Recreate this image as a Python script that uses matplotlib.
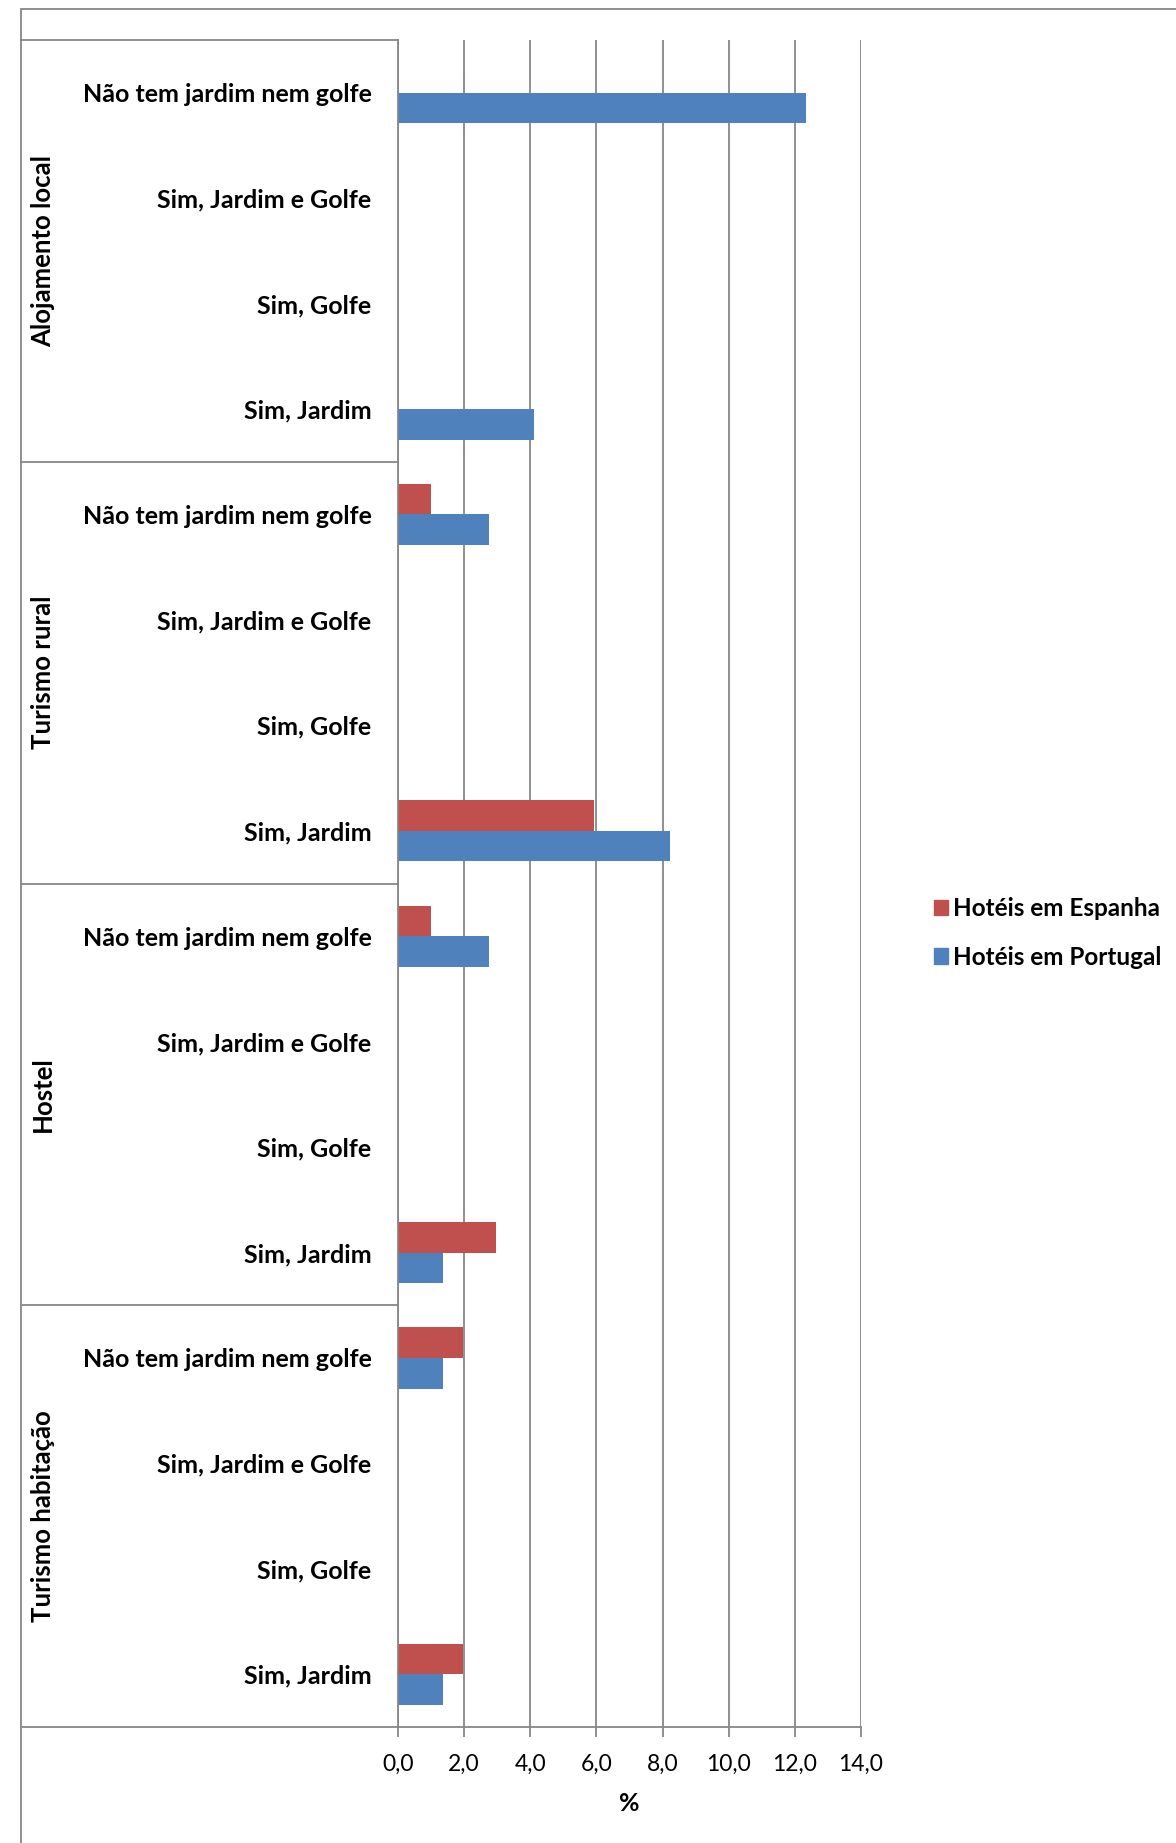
# Barras horizontais: jardim / golfe por tipo de alojamento
import numpy as np
import matplotlib.pyplot as plt
from matplotlib.patches import Rectangle, Patch
from matplotlib.transforms import blended_transform_factory

plt.rcParams['font.family'] = ['Lato', 'DejaVu Sans']

# dados
grupos = ['Alojamento local', 'Turismo rural', 'Hostel', 'Turismo habitação']
respostas = ['Não tem jardim nem golfe', 'Sim, Jardim e Golfe', 'Sim, Golfe', 'Sim, Jardim']
espanha = [0, 0, 0, 0,
           0.99, 0, 0, 5.94,
           0.99, 0, 0, 2.97,
           1.98, 0, 0, 1.98]
portugal = [12.33, 0, 0, 4.11,
            2.74, 0, 0, 8.22,
            2.74, 0, 0, 1.37,
            1.37, 0, 0, 1.37]
xticks = [0, 2, 4, 6, 8, 10, 12, 14]

cor_es = '#C0504D'
cor_pt = '#4F81BD'
cinza = '#878787'

W, H = 1176, 1843
fig = plt.figure(figsize=(W / 100, H / 100), dpi=100)
ax = fig.add_axes([398 / W, 1 - 1727 / H, (861 - 398) / W, (1727 - 40) / H])

n = len(grupos) * len(respostas)
y = np.arange(n)[::-1]
h = 0.29
ax.barh(y + h / 2, espanha, height=h, color=cor_es, label='Hotéis em Espanha')
ax.barh(y - h / 2, portugal, height=h, color=cor_pt, label='Hotéis em Portugal')

ax.set_xlim(0, 14)
ax.set_ylim(-0.5, n - 0.5)

# eixo y: respostas
ax.set_yticks(y)
ax.set_yticklabels(respostas * len(grupos), fontsize=18, fontweight='bold')
ax.tick_params(axis='y', length=0, pad=19)

# eixo x
ax.set_xticks(xticks)
ax.set_xticklabels([f'{v:.1f}'.replace('.', ',') for v in xticks], fontsize=16.5)
ax.tick_params(axis='x', length=7, width=1.3, color=cinza, pad=12)
ax.set_xlabel('%', fontsize=18, fontweight='bold', labelpad=13)

ax.grid(axis='x', color=cinza, linewidth=1.3)
ax.set_axisbelow(True)
for s in ['top', 'right']:
    ax.spines[s].set_visible(False)
for s in ['left', 'bottom']:
    ax.spines[s].set_color(cinza)
    ax.spines[s].set_linewidth(1.3)

# separadores de grupo e nomes dos grupos
tr = blended_transform_factory(ax.transAxes, ax.transData)
x_esq = (21 - 398) / (861 - 398)
for k in range(len(grupos) + 1):
    yy = n - 0.5 - k * len(respostas)
    ax.plot([x_esq, 0], [yy, yy], transform=tr, color=cinza, lw=1.3, clip_on=False)
trf = blended_transform_factory(fig.transFigure, ax.transData)
for k, g in enumerate(grupos):
    yc = n - 0.5 - (k + 0.5) * len(respostas)
    ax.text(43 / W, yc, g, transform=trf, rotation=90, ha='center', va='center',
            fontsize=18.5, fontweight='bold')

# legenda
handles = [Patch(color=cor_es, label='Hotéis em Espanha'),
           Patch(color=cor_pt, label='Hotéis em Portugal')]
fig.legend(handles=handles, loc='center left', bbox_to_anchor=(912 / W, 1 - 933 / H),
           frameon=False, prop={'size': 17.5, 'weight': 'bold'},
           handlelength=0.6, handleheight=0.6, handletextpad=0.2, labelspacing=1.05)

# moldura exterior
fig.patches.append(Rectangle((21 / W, -0.01), 1.0, 1 - 9 / H + 0.01, transform=fig.transFigure,
                             fill=False, edgecolor=cinza, linewidth=1.3))

fig.savefig('out.png', dpi=100)
